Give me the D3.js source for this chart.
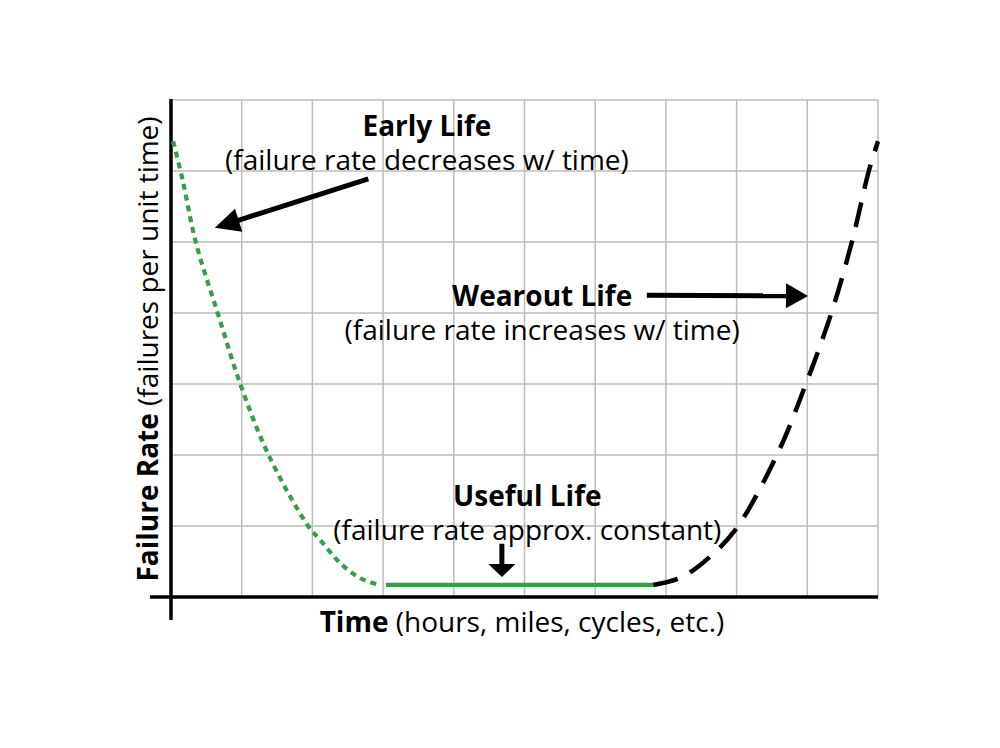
<!DOCTYPE html>
<html><head><meta charset="utf-8">
<script src="https://cdn.jsdelivr.net/npm/d3@7"></script>
<style>html,body{margin:0;padding:0;background:#fff;} svg{display:block;}</style>
</head><body>
<script>
// ---- data (grid units: time 0..10, failure rate 0..7) ----
const xTicks = [0,1,2,3,4,5,6,7,8,9,10];
const yTicks = [0,1,2,3,4,5,6,7];
const earlyX = [0.03, 0.165, 0.35, 0.66, 0.98, 1.38, 1.94, 2.13, 2.39, 2.67, 2.94];
const earlyY = [6.42, 5.87, 5.0, 4.0, 3.0, 2.0, 1.0, 0.78, 0.48, 0.27, 0.17];
const usefulX = [3.04, 6.82];
const usefulY = [0.17, 0.17];
const wearX = [6.82, 7.2, 7.52, 7.97, 8.57, 8.98, 9.34, 9.63, 9.87, 10.0];
const wearY = [0.17, 0.27, 0.48, 0.93, 2.0, 3.0, 4.0, 5.0, 6.0, 6.42];
const labelTitles = ["Early Life", "Wearout Life", "Useful Life"];
const labelSubs = ["(failure rate decreases w/ time)", "(failure rate increases w/ time)", "(failure rate approx. constant)"];
const labelX = [3.62, 5.25, 5.04];
const labelY = [6.493, 4.099, 1.282];
const arrowFrom = [[2.79, 5.89], [6.73, 4.25], [4.68, 0.75]];
const arrowTo = [[0.62, 5.2], [9.01, 4.24], [4.68, 0.28]];
const xLabelBold = "Time", xLabelRest = " (hours, miles, cycles, etc.)";
const yLabelBold = "Failure Rate", yLabelRest = " (failures per unit time)";

const W = 1000, H = 748;
const FONT = "'Open Sans', 'Noto Sans', sans-serif";
const FS = 28;
const GREEN = "#3a9b48";
const svg = d3.select("body").append("svg").attr("width", W).attr("height", H);
const x = d3.scaleLinear().domain([0,10]).range([171, 878]);
const y = d3.scaleLinear().domain([0,7]).range([597, 100]);

// grid
const g = svg.append("g");
g.selectAll("line.v").data(xTicks.slice(1)).join("line")
  .attr("x1", d=>x(d)).attr("x2", d=>x(d)).attr("y1", y(0)).attr("y2", y(7))
  .attr("stroke", "#bcbcbc").attr("stroke-width", 1.5);
g.selectAll("line.h").data(yTicks.slice(1)).join("line")
  .attr("y1", d=>y(d)).attr("y2", d=>y(d)).attr("x1", x(0)).attr("x2", x(10))
  .attr("stroke", "#bcbcbc").attr("stroke-width", 1.5);

// axes
svg.append("line").attr("x1", x(0)).attr("x2", x(0)).attr("y1", y(7)-1).attr("y2", y(0)+23)
  .attr("stroke", "#000").attr("stroke-width", 3.5);
svg.append("line").attr("x1", x(0)-21).attr("x2", x(10)).attr("y1", y(0)).attr("y2", y(0))
  .attr("stroke", "#000").attr("stroke-width", 3.5);

// curves
const line = d3.line().x(d=>x(d[0])).y(d=>y(d[1])).curve(d3.curveCatmullRom.alpha(0.5));
svg.append("path").attr("d", line(earlyX.map((v,i)=>[v, earlyY[i]])))
  .attr("fill","none").attr("stroke", GREEN).attr("stroke-width", 4.2).attr("stroke-dasharray", "6,5");
svg.append("path").attr("d", line(usefulX.map((v,i)=>[v, usefulY[i]])))
  .attr("fill","none").attr("stroke", GREEN).attr("stroke-width", 4.2);
svg.append("path").attr("d", line(wearX.map((v,i)=>[v, wearY[i]])))
  .attr("fill","none").attr("stroke", "#000").attr("stroke-width", 4.5).attr("stroke-dasharray", "25,14");

// labels
labelTitles.forEach((t,i)=>{
  svg.append("text").attr("x", x(labelX[i])).attr("y", y(labelY[i]))
    .attr("text-anchor","middle").attr("font-family", FONT).attr("font-size", FS).attr("font-weight", "bold").text(t);
  svg.append("text").attr("x", x(labelX[i])).attr("y", y(labelY[i]) + 34)
    .attr("text-anchor","middle").attr("font-family", FONT).attr("font-size", FS).text(labelSubs[i]);
});

// arrows
function arrow(p0, p1, headLen, headW, sw) {
  const x0 = x(p0[0]), y0 = y(p0[1]), x1 = x(p1[0]), y1 = y(p1[1]);
  const dx = x1-x0, dy = y1-y0, L = Math.hypot(dx,dy), ux = dx/L, uy = dy/L;
  const bx = x1-ux*headLen, by = y1-uy*headLen;
  svg.append("line").attr("x1", x0).attr("y1", y0).attr("x2", bx+ux*2).attr("y2", by+uy*2)
    .attr("stroke","#000").attr("stroke-width", sw);
  svg.append("path").attr("d", `M${x1},${y1}L${bx-uy*headW/2},${by+ux*headW/2}L${bx+uy*headW/2},${by-ux*headW/2}Z`)
    .attr("fill","#000");
}
arrow(arrowFrom[0], arrowTo[0], 25, 24, 5);
arrow(arrowFrom[1], arrowTo[1], 22, 25, 5);
arrow(arrowFrom[2], arrowTo[2], 13, 27, 5);

// axis titles
const xt = svg.append("text").attr("x", 522).attr("y", 632).attr("text-anchor","middle")
  .attr("font-family", FONT).attr("font-size", FS);
xt.append("tspan").attr("font-weight","bold").text(xLabelBold);
xt.append("tspan").text(xLabelRest);
const yt = svg.append("text").attr("transform", "translate(158,349) rotate(-90)").attr("text-anchor","middle")
  .attr("font-family", FONT).attr("font-size", FS);
yt.append("tspan").attr("font-weight","bold").text(yLabelBold);
yt.append("tspan").text(yLabelRest);
</script>
</body></html>
